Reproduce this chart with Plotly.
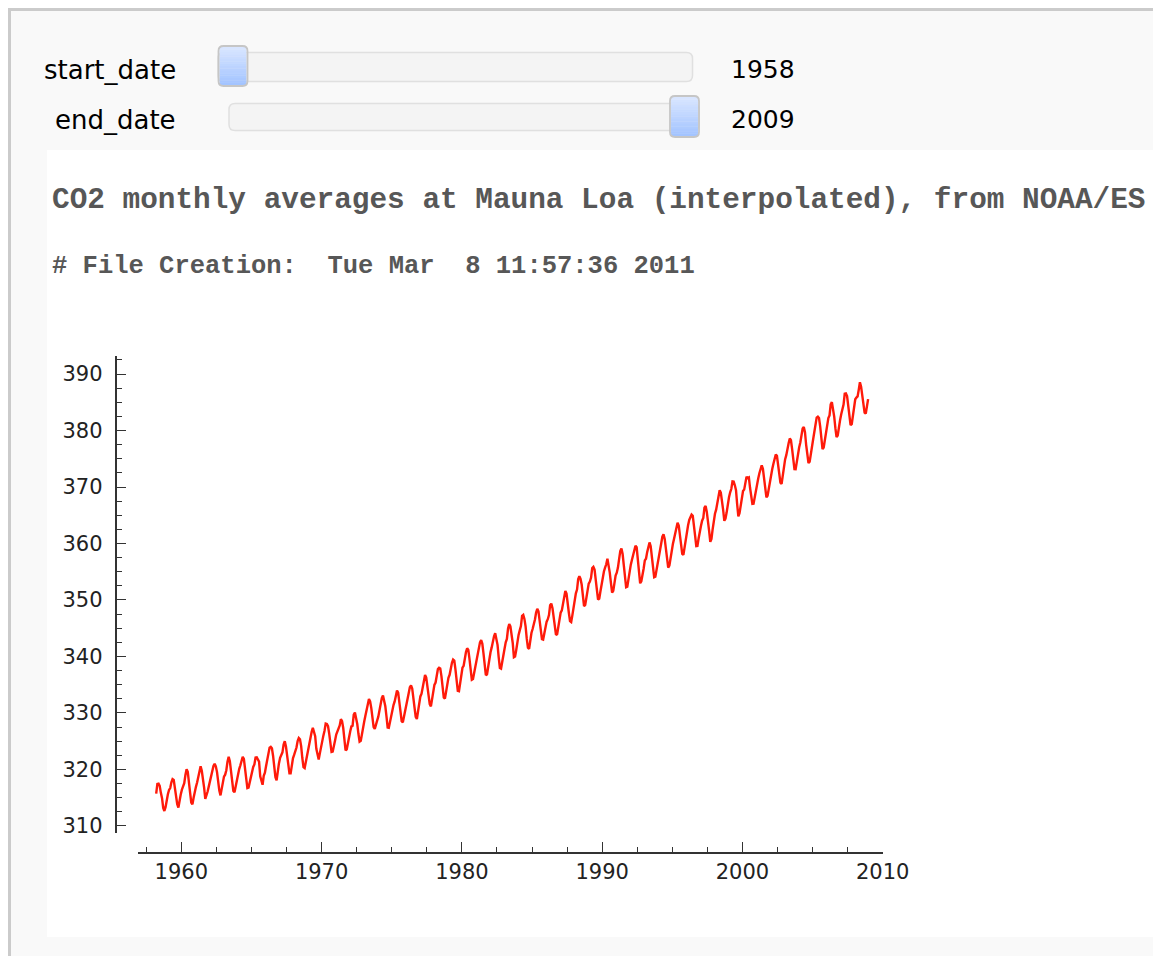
import plotly.graph_objects as go

# ---------------- data (Mauna Loa CO2, interpolated monthly, ppm) ----------------
start_year = 1958
start_month = 3  # first value is March 1958

co2_1950s = [315.71, 317.45, 317.50, 317.10, 315.86, 314.93, 313.20, 312.66, 313.33, 314.67,
             315.62, 316.38, 316.71, 317.72, 318.29, 318.15, 316.54, 314.80, 313.84, 313.26, 314.80, 315.58]
co2_1960s = [316.43, 316.97, 317.58, 319.02, 320.03, 319.59, 318.18, 315.91, 314.16, 313.83, 315.00, 316.19,
             316.93, 317.70, 318.54, 319.48, 320.58, 319.77, 318.57, 316.79, 314.80, 315.38, 316.10, 317.01,
             317.94, 318.56, 319.68, 320.63, 321.01, 320.55, 319.58, 317.40, 316.26, 315.42, 316.69, 317.69,
             318.74, 319.08, 319.86, 321.39, 322.25, 321.47, 319.74, 317.77, 316.21, 315.99, 317.12, 318.31,
             319.57, 320.07, 320.73, 321.77, 322.25, 321.89, 320.44, 318.70, 316.70, 316.79, 317.79, 318.71,
             319.44, 320.44, 320.89, 322.13, 322.16, 321.87, 321.39, 318.80, 317.81, 317.30, 318.87, 319.42,
             320.62, 321.59, 322.39, 323.87, 324.01, 323.75, 322.39, 320.37, 318.64, 318.10, 319.79, 321.08,
             322.07, 322.50, 323.04, 324.42, 325.00, 324.09, 322.55, 320.92, 319.31, 319.31, 320.72, 321.96,
             322.57, 323.15, 323.89, 325.02, 325.57, 325.36, 324.14, 322.03, 320.41, 320.25, 321.31, 322.84,
             324.00, 324.42, 325.64, 326.66, 327.38, 326.70, 325.89, 323.67, 322.38, 321.78, 322.85, 324.11]
co2_1970s = [325.03, 325.99, 326.87, 328.13, 328.07, 327.66, 326.35, 324.69, 323.10, 323.16, 323.98, 325.13,
             326.17, 326.68, 327.18, 327.78, 328.92, 328.57, 327.34, 325.46, 323.36, 323.57, 324.80, 326.01,
             326.77, 327.63, 327.75, 329.72, 330.07, 329.09, 328.05, 326.32, 324.93, 325.06, 326.50, 327.55,
             328.54, 329.56, 330.30, 331.50, 332.48, 332.07, 330.87, 329.31, 327.51, 327.18, 328.16, 328.64,
             329.35, 330.71, 331.48, 332.65, 333.09, 332.25, 331.18, 329.40, 327.43, 327.37, 328.46, 329.57,
             330.40, 331.40, 332.04, 333.31, 333.96, 333.59, 331.91, 330.06, 328.56, 328.34, 329.49, 330.76,
             331.75, 332.56, 333.50, 334.58, 334.87, 334.34, 333.05, 330.94, 329.30, 328.94, 330.31, 331.68,
             332.93, 333.42, 334.70, 336.07, 336.74, 336.27, 334.93, 332.75, 331.58, 331.16, 332.40, 333.85,
             334.97, 335.39, 336.64, 337.76, 338.01, 337.89, 336.54, 334.68, 332.76, 332.54, 333.92, 334.95,
             336.23, 336.76, 337.96, 338.89, 339.47, 339.29, 337.73, 336.09, 333.91, 333.86, 335.29, 336.73]
co2_1980s = [338.01, 338.36, 340.08, 340.77, 341.46, 341.17, 339.56, 337.60, 335.88, 336.01, 337.10, 338.21,
             339.24, 340.48, 341.38, 342.51, 342.91, 342.25, 340.49, 338.43, 336.69, 336.85, 338.36, 339.61,
             340.75, 341.61, 342.70, 343.56, 344.13, 343.35, 342.06, 339.82, 337.97, 337.86, 339.26, 340.49,
             341.38, 342.52, 343.10, 344.94, 345.75, 345.32, 343.99, 342.39, 339.86, 339.99, 341.16, 342.99,
             343.82, 344.63, 345.38, 347.19, 347.36, 346.65, 345.34, 343.16, 341.54, 341.34, 342.95, 344.16,
             344.86, 345.56, 346.55, 347.79, 348.43, 348.01, 346.35, 344.65, 343.06, 342.99, 344.29, 345.51,
             346.17, 346.60, 347.34, 349.06, 349.36, 348.56, 347.24, 345.33, 343.81, 343.98, 345.41, 346.77,
             347.76, 348.16, 349.41, 350.64, 351.62, 351.12, 349.80, 347.74, 346.26, 346.09, 347.28, 348.74,
             349.91, 351.18, 351.85, 353.69, 354.21, 353.72, 352.69, 350.40, 348.92, 349.13, 350.20, 351.41,
             352.91, 353.27, 353.96, 355.64, 355.86, 355.37, 353.99, 351.81, 350.05, 350.25, 351.49, 352.85]
co2_1990s = [353.80, 355.04, 355.73, 356.32, 357.32, 356.34, 354.84, 353.01, 351.31, 351.62, 353.07, 354.33,
             354.84, 355.73, 357.23, 358.66, 359.13, 358.13, 356.19, 353.85, 352.25, 352.35, 353.81, 355.12,
             356.25, 357.11, 357.86, 359.09, 359.59, 359.33, 357.01, 354.94, 352.96, 353.32, 354.32, 355.57,
             357.00, 357.31, 358.47, 359.27, 360.19, 359.52, 357.33, 355.64, 354.03, 354.12, 355.41, 356.91,
             358.24, 358.92, 359.99, 361.23, 361.65, 360.81, 359.38, 357.46, 355.73, 356.08, 357.53, 358.98,
             359.92, 360.86, 361.83, 363.30, 363.69, 363.19, 361.64, 359.12, 358.17, 357.99, 359.45, 360.68,
             362.07, 363.24, 364.17, 364.57, 365.13, 364.92, 363.55, 361.38, 359.54, 359.58, 360.89, 362.24,
             363.09, 364.03, 364.51, 366.35, 366.64, 365.59, 364.31, 362.25, 360.29, 360.82, 362.49, 364.38,
             365.27, 365.98, 367.24, 368.66, 369.42, 368.99, 367.82, 365.95, 364.02, 364.40, 365.52, 367.13,
             368.18, 369.07, 369.68, 370.99, 370.96, 370.30, 369.45, 366.90, 364.81, 365.37, 366.72, 368.10]
co2_2000s = [369.29, 369.54, 370.60, 371.82, 371.58, 371.70, 369.86, 368.13, 367.00, 367.03, 368.37, 369.67,
             370.59, 371.51, 372.43, 373.37, 373.85, 373.21, 371.51, 369.61, 368.18, 368.45, 369.76, 371.24,
             372.53, 373.20, 374.12, 375.02, 375.76, 375.52, 374.01, 371.85, 370.75, 370.55, 372.25, 373.79,
             374.88, 375.64, 376.45, 377.73, 378.60, 378.28, 376.70, 374.38, 373.17, 373.15, 374.66, 375.99,
             377.00, 377.87, 378.88, 380.35, 380.62, 379.69, 377.47, 376.01, 374.25, 374.46, 376.16, 377.51,
             378.46, 379.73, 380.77, 382.29, 382.45, 382.21, 380.74, 378.74, 376.70, 377.00, 378.35, 380.11,
             381.38, 382.19, 382.67, 384.61, 385.03, 384.05, 382.46, 380.41, 378.85, 379.13, 380.15, 381.82,
             382.89, 383.90, 384.58, 386.50, 386.56, 386.10, 384.50, 381.99, 380.96, 381.12, 382.45, 383.95,
             385.52, 385.82, 386.03, 387.21, 388.54, 387.76, 386.36, 384.09, 383.18, 382.99, 384.19, 385.56]

x_tick_values = [1960, 1970, 1980, 1990, 2000, 2010]
y_tick_values = [310, 320, 330, 340, 350, 360, 370, 380, 390]

slider_labels = ["start_date", "end_date"]
slider_values = [1958, 2009]

# the reference shows this line cut off at the right edge of the page
title_text = "CO2 monthly averages at Mauna Loa (interpolated), from NOAA/ES"
subtitle_text = "# File Creation:\u00a0\u00a0Tue Mar\u00a0\u00a08 11:57:36 2011"

# ---------------- build ----------------
co2 = co2_1950s + co2_1960s + co2_1970s + co2_1980s + co2_1990s + co2_2000s
dates = [start_year + (start_month - 1 + i + 0.5) / 12.0 for i in range(len(co2))]

FIG_W, FIG_H = 1145, 948
OFF = 8  # default page body margin


def px(X):
    return (X - OFF) / FIG_W


def py(Y):
    return 1 - (Y - OFF) / FIG_H


def rrect_path(x0, y0, x1, y1, r):
    pts = [
        ("M", [(x0 + r, y0)]), ("L", [(x1 - r, y0)]), ("Q", [(x1, y0), (x1, y0 + r)]),
        ("L", [(x1, y1 - r)]), ("Q", [(x1, y1), (x1 - r, y1)]),
        ("L", [(x0 + r, y1)]), ("Q", [(x0, y1), (x0, y1 - r)]),
        ("L", [(x0, y0 + r)]), ("Q", [(x0, y0), (x0 + r, y0)]),
    ]
    s = ""
    for cmd, coords in pts:
        s += cmd + " " + " ".join(f"{px(a):.6f},{py(b):.6f}" for a, b in coords) + " "
    return s + "Z"


shapes = []
# page panel (white) and frame border
shapes.append(dict(type="rect", xref="paper", yref="paper", x0=px(47), x1=1.0, y0=py(937), y1=py(150),
                   fillcolor="white", line=dict(width=0), layer="below"))
shapes.append(dict(type="rect", xref="paper", yref="paper", x0=px(8), x1=px(11), y0=0.0, y1=py(8),
                   fillcolor="#cbcbcb", line=dict(width=0), layer="below"))
shapes.append(dict(type="rect", xref="paper", yref="paper", x0=px(8), x1=1.0, y0=py(11), y1=py(8),
                   fillcolor="#cbcbcb", line=dict(width=0), layer="below"))

# slider tracks
tracks = [(218, 52.5, 692.5, 81.5), (229, 103.5, 699, 130.5)]
for (x0, y0, x1, y1) in tracks:
    shapes.append(dict(type="path", xref="paper", yref="paper", path=rrect_path(x0, y0, x1, y1, 6),
                       fillcolor="#f4f4f4", line=dict(color="#e0e0e0", width=1.5), layer="below"))

# slider handles with vertical gradient
handles = [(218.5, 46, 247.5, 86), (670, 96, 699, 137)]
top_c = (216, 229, 255)
bot_c = (163, 196, 255)
nb = 16
for (x0, y0, x1, y1) in handles:
    h = (y1 - y0 - 2) / nb
    for k in range(nb):
        t = k / (nb - 1)
        c = tuple(int(round(top_c[j] + (bot_c[j] - top_c[j]) * t)) for j in range(3))
        shapes.append(dict(type="rect", xref="paper", yref="paper",
                           x0=px(x0 + 1), x1=px(x1 - 1), y0=py(y0 + 1 + (k + 1) * h + 0.3), y1=py(y0 + 1 + k * h),
                           fillcolor=f"rgb({c[0]},{c[1]},{c[2]})", line=dict(width=0), layer="below"))
    shapes.append(dict(type="path", xref="paper", yref="paper", path=rrect_path(x0, y0, x1, y1, 5),
                       fillcolor="rgba(0,0,0,0)", line=dict(color="#c6c6c6", width=1.8), layer="below"))

annotations = []
label_font = dict(family="DejaVu Sans", size=26, color="#000000")
value_font = dict(family="DejaVu Sans", size=25, color="#000000")
for lab, val, yc in zip(slider_labels, slider_values, [69.5, 119.5]):
    annotations.append(dict(text=lab, xref="paper", yref="paper", x=px(177), y=py(yc),
                            xanchor="right", yanchor="middle", showarrow=False, font=label_font, borderpad=0))
    annotations.append(dict(text=str(val), xref="paper", yref="paper", x=px(730), y=py(yc),
                            xanchor="left", yanchor="middle", showarrow=False, font=value_font, borderpad=0))

annotations.append(dict(text="<b>" + title_text + "</b>", xref="paper", yref="paper", x=px(51), y=py(200.5),
                        xanchor="left", yanchor="middle", showarrow=False, borderpad=0,
                        font=dict(family="Liberation Mono", size=29.4, color="#575757")))
annotations.append(dict(text="<b>" + subtitle_text + "</b>", xref="paper", yref="paper", x=px(51), y=py(266.5),
                        xanchor="left", yanchor="middle", showarrow=False, borderpad=0,
                        font=dict(family="Liberation Mono", size=25.5, color="#575757")))

fig = go.Figure()
fig.add_trace(go.Scatter(x=dates, y=co2, mode="lines", line=dict(color="#ff1a0a", width=2.4),
                         hoverinfo="skip", showlegend=False))

axis_col = "#333333"
tick_font = dict(family="DejaVu Sans", size=21, color="#222222")

fig.update_layout(
    width=FIG_W, height=FIG_H, autosize=False,
    margin=dict(l=0, r=0, t=0, b=0, pad=0, autoexpand=False),
    paper_bgcolor="#f9f9f9",
    plot_bgcolor="rgba(0,0,0,0)",
    showlegend=False,
    shapes=shapes,
    annotations=annotations,
    xaxis=dict(
        domain=[px(137.7), px(883)], anchor="free", position=py(853),
        range=[1956.89, 2010.02], showgrid=False, zeroline=False,
        showline=True, linecolor=axis_col, linewidth=1.5,
        tickmode="array", tickvals=x_tick_values, ticktext=[str(v) for v in x_tick_values],
        ticks="inside", ticklen=10, tickwidth=1.3, tickcolor=axis_col,
        tickfont=tick_font, ticklabelstandoff=0, automargin=False,
        minor=dict(ticks="inside", ticklen=5.5, tickwidth=1.2, tickcolor=axis_col, dtick=2.5, tick0=0, showgrid=False),
    ),
    yaxis=dict(
        domain=[py(832.7), py(355.7)], anchor="free", position=px(115.5),
        range=[308.81, 393.24], showgrid=False, zeroline=False,
        showline=True, linecolor=axis_col, linewidth=1.5,
        tickmode="array", tickvals=y_tick_values, ticktext=[str(v) for v in y_tick_values],
        ticks="inside", ticklen=10, tickwidth=1.3, tickcolor=axis_col,
        tickfont=tick_font, ticklabelstandoff=8, automargin=False,
        minor=dict(ticks="inside", ticklen=5.5, tickwidth=1.2, tickcolor=axis_col, dtick=2.5, tick0=0, showgrid=False),
    ),
)

fig.write_html("out.html", config={"responsive": False})
